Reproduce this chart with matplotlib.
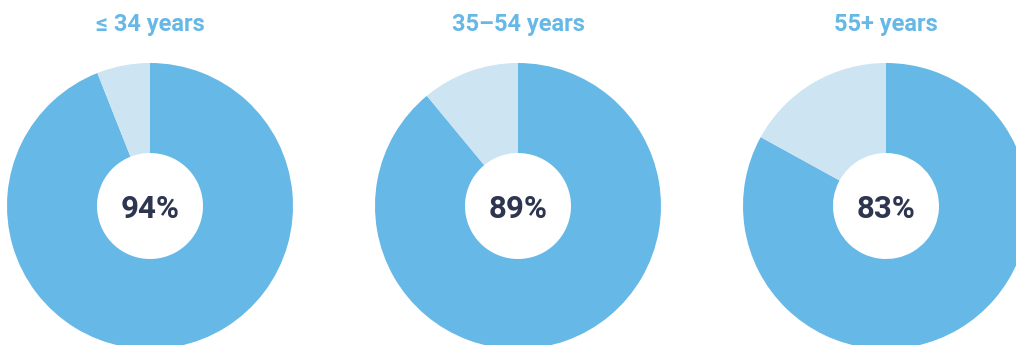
import matplotlib
matplotlib.use("Agg")
import matplotlib.pyplot as plt

# Share of each age group (percent)
groups = ["≤ 34 years", "35–54 years", "55+ years"]
shares = [94, 89, 83]
labels = ["94%", "89%", "83%"]

main_color = "#66B8E6"
rest_color = "#CDE4F2"
number_color = "#2D3550"

W, H = 1016, 345
fig = plt.figure(figsize=(W / 100, H / 100), dpi=100)
ax = fig.add_axes([0, 0, 1, 1])

centers_x = [150, 518, 886]
center_y = H - 206
radius = 143
hole = 53

for cx, name, share, lab in zip(centers_x, groups, shares, labels):
    ax.pie([share, 100 - share], colors=[main_color, rest_color],
           startangle=90, counterclock=False, center=(cx, center_y),
           radius=radius, frame=True,
           wedgeprops=dict(width=radius - hole, linewidth=0))
    ax.text(cx, center_y - 3, lab, ha="center", va="center",
            fontsize=22.5, fontweight="bold", color=number_color,
            family=["Roboto", "DejaVu Sans"])
    ax.text(cx, H - 25, name, ha="center", va="center",
            fontsize=17, fontweight="bold", color=main_color,
            family=["Roboto", "DejaVu Sans"])

ax.set_xlim(0, W)
ax.set_ylim(0, H)
ax.set_aspect("equal")
ax.axis("off")
fig.savefig("out.png", dpi=100)
